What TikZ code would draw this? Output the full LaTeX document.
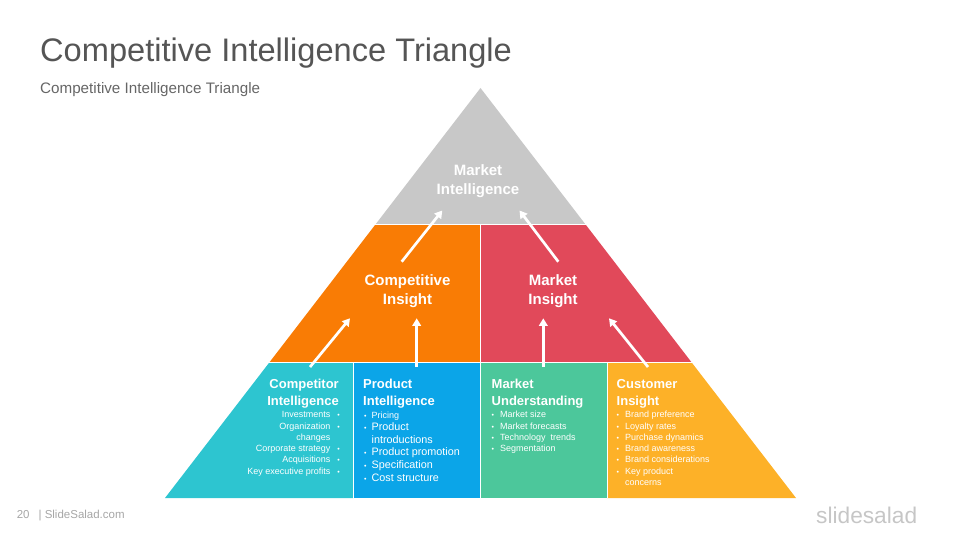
\documentclass[tikz,border=0pt]{standalone}
\usepackage{fontspec}
\setmainfont{Liberation Sans}
\usepackage{xcolor}
\usetikzlibrary{arrows.meta}

\definecolor{migray}{HTML}{C8C8C8}
\definecolor{ciorange}{HTML}{F97C05}
\definecolor{mired}{HTML}{E1495A}
\definecolor{cpteal}{HTML}{2DC5D0}
\definecolor{piblue}{HTML}{0BA5E8}
\definecolor{mugreen}{HTML}{4CC79B}
\definecolor{cuyellow}{HTML}{FDB128}
\definecolor{titlegray}{HTML}{555555}

\newcommand{\bul}{{\fontsize{7}{7}\selectfont\textbullet}}

\tikzset{
  biglbl/.style={white, font=\bfseries\fontsize{15}{19}\selectfont, align=center, anchor=base, inner sep=0},
  celltitle/.style={white, font=\bfseries\fontsize{13}{17.3}\selectfont, inner sep=0},
  itemlist/.style={white, font=\fontsize{9}{11.3}\selectfont, inner sep=0},
  uparrow/.style={white, line width=2.7pt, -{Triangle[length=7.5pt,width=8.5pt]}}
}

\begin{document}
\begin{tikzpicture}[x=1pt,y=-1pt]
\useasboundingbox (0,0) rectangle (960,540);

% triangle rows
\fill[migray] (480.5,88) -- (585.2,224) -- (375.8,224) -- cycle;
\fill[ciorange] (375.8,224) -- (480,224) -- (480,362) -- (269.7,362) -- cycle;
\fill[mired] (480,224) -- (585.2,224) -- (691.3,362) -- (480,362) -- cycle;
\fill[cpteal] (269.7,362) -- (353,362) -- (353,498) -- (165,498) -- cycle;
\fill[piblue] (353,362) -- (480,362) -- (480,498) -- (353,498) -- cycle;
\fill[mugreen] (480,362) -- (607,362) -- (607,498) -- (480,498) -- cycle;
\fill[cuyellow] (607,362) -- (691.3,362) -- (796,498) -- (607,498) -- cycle;

\draw[white, line width=1pt] (370,224) -- (590,224);
\draw[white, line width=1pt] (260,362) -- (700,362);
\draw[white, line width=1pt] (480,224) -- (480,498);
\draw[white, line width=1pt] (353,362) -- (353,498);
\draw[white, line width=1pt] (607,362) -- (607,498);

% titles
\node[anchor=base west, inner sep=0, text=titlegray, font=\fontsize{32.6}{36}\selectfont] (title) at (40,61.7) {Competitive Intelligence Triangle};
\node[anchor=base west, inner sep=0, text=titlegray!90, font=\fontsize{15.2}{18}\selectfont] (subtitle) at (40,93.3) {Competitive Intelligence Triangle};

% labels
\node[biglbl] (mi) at (478,194.5) {Market\\Intelligence};
\node[biglbl] (ci) at (407.5,304) {Competitive\\Insight};
\node[biglbl] (mki) at (553,304) {Market\\Insight};

\node[celltitle, anchor=base east, align=right] (cpi) at (339,405.9) {Competitor\\Intelligence};
\node[celltitle, anchor=base west, align=left] (pi) at (363,405.9) {Product\\Intelligence};
\node[celltitle, anchor=base west, align=left] (mu) at (491.5,405.9) {Market\\Understanding};
\node[celltitle, anchor=base west, align=left] (cu) at (616.5,405.9) {Customer\\Insight};

\node[itemlist, anchor=north east] (cpi-list) at (340,409.6) {%
\begin{tabular}{@{}r@{\hspace{7pt}}c@{}}
Investments & \bul\\
Organization & \bul\\
changes & \\
Corporate strategy & \bul\\
Acquisitions & \bul\\
Key executive profits & \bul
\end{tabular}};

\node[itemlist, anchor=north west, font=\fontsize{10.8}{12.6}\selectfont] (pi-list) at (364,409) {%
\begin{tabular}{@{}l@{\hspace{5pt}}l@{}}
\bul & {\fontsize{9}{11}\selectfont Pricing}\\
\bul & Product\\
 & introductions\\
\bul & Product promotion\\
\bul & Specification\\
\bul & Cost structure
\end{tabular}};

\node[itemlist, anchor=north west] (mu-list) at (491.5,409.6) {%
\begin{tabular}{@{}l@{\hspace{6pt}}l@{}}
\bul & Market size\\
\bul & Market forecasts\\
\bul & Technology\ \ trends\\
\bul & Segmentation
\end{tabular}};

\node[itemlist, anchor=north west] (cu-list) at (616.5,409.6) {%
\begin{tabular}{@{}l@{\hspace{6pt}}l@{}}
\bul & Brand preference\\
\bul & Loyalty rates\\
\bul & Purchase dynamics\\
\bul & Brand awareness\\
\bul & Brand considerations\\
\bul & Key product\\
 & concerns
\end{tabular}};

% arrows
\coordinate (cpi-out) at (310,367);
\coordinate (ci-in1) at (350,318.3);
\coordinate (pi-out) at (416.7,367);
\coordinate (ci-in2) at (416.7,318.3);
\coordinate (mu-out) at (543.3,367);
\coordinate (mki-in1) at (543.3,318.3);
\coordinate (cu-out) at (648,367);
\coordinate (mki-in2) at (609,318.3);
\coordinate (ci-out) at (401.7,261.7);
\coordinate (mi-in1) at (442.3,210.5);
\coordinate (mki-out) at (558.3,261.7);
\coordinate (mi-in2) at (519.5,210.5);

\draw[uparrow] (cpi-out) -- (ci-in1);
\draw[uparrow] (pi-out) -- (ci-in2);
\draw[uparrow] (mu-out) -- (mki-in1);
\draw[uparrow] (cu-out) -- (mki-in2);
\draw[uparrow] (ci-out) -- (mi-in1);
\draw[uparrow] (mki-out) -- (mi-in2);

% footer
\node[anchor=base west, inner sep=0, text=gray!70, font=\fontsize{11.5}{13}\selectfont] (pageno) at (16.6,518.5) {20\hspace{9pt}| SlideSalad.com};
\node[anchor=base west, inner sep=0, text=gray!45, font=\fontsize{22.7}{26}\selectfont] (logo) at (816,523) {slidesalad};

\end{tikzpicture}
\end{document}
